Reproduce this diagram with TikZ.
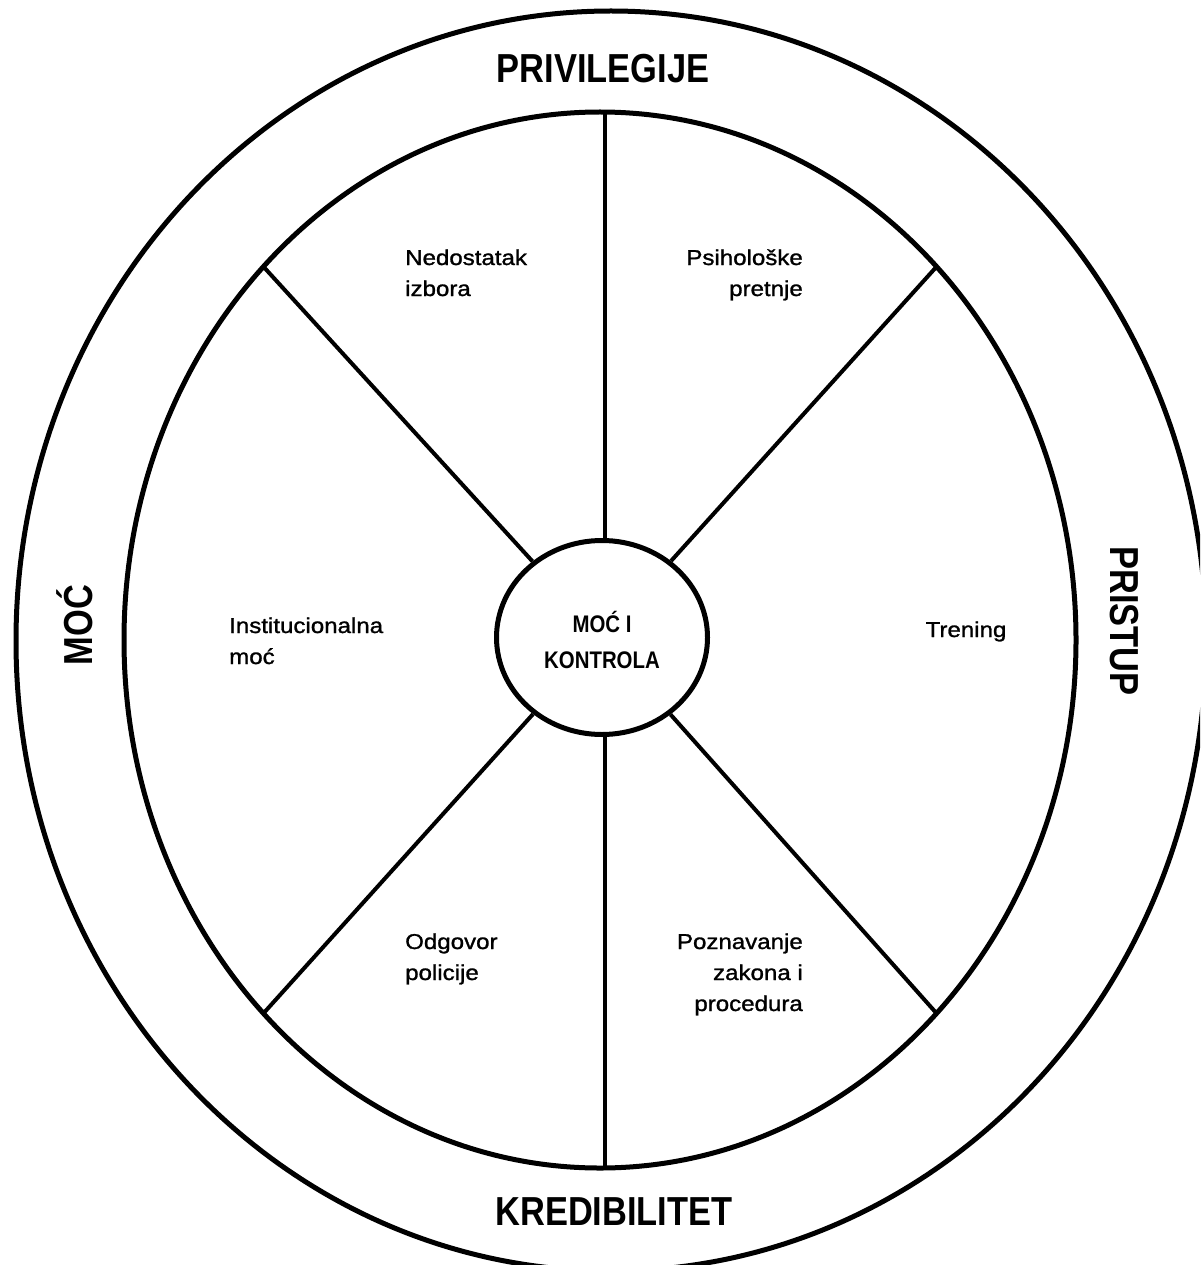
\documentclass[tikz,border=0pt]{standalone}
\usepackage{fontspec}
\setmainfont{Liberation Sans}[FakeStretch=1.12, FakeBold=1.2]
\newfontfamily\hdfont{Liberation Sans}[FakeStretch=0.85]
\usetikzlibrary{shapes.geometric}
\begin{document}
\begin{tikzpicture}[x=1pt,y=-1pt,
  ring/.style={line width=5pt},
  spoke/.style={line width=4pt},
  lbl/.style={font=\fontsize{21.5}{31}\selectfont, inner sep=0pt},
  hdr/.style={font=\hdfont\bfseries\fontsize{40.5}{44}\selectfont, inner sep=0pt},
  hubstyle/.style={ellipse, draw, line width=5pt, minimum width=211pt, minimum height=194pt, inner sep=0pt, fill=white},
  hubtext/.style={font=\hdfont\bfseries\fontsize{24}{36}\selectfont, inner sep=0pt, align=center}]
\useasboundingbox (0,0) rectangle (1200,1265);
\fill[white] (0,0) rectangle (1200,1265);
\begin{scope}
  \clip (0,0) rectangle (1200,1265);
  \draw[ring] (611,641) ellipse [x radius=595pt, y radius=630pt];
\end{scope}
\draw[ring] (600,640) ellipse [x radius=476pt, y radius=528pt];
% spoke end points on the inner ring
\coordinate (n) at (605,112);
\coordinate (s) at (605,1168);
\coordinate (nw) at (263.4,266.6);
\coordinate (ne) at (936.6,266.6);
\coordinate (sw) at (263.4,1013.4);
\coordinate (se) at (936.6,1013.4);
% hub
\node[hubstyle] (hub) at (602,637.5) {};
\draw[spoke] (n) -- (n |- hub.north);
\draw[spoke] (s) -- (s |- hub.south);
\draw[spoke] (hub) -- (nw);
\draw[spoke] (hub) -- (ne);
\draw[spoke] (hub) -- (sw);
\draw[spoke] (hub) -- (se);
\node[hubtext, anchor=base] (hubt) at (602,668) {MOĆ I\\KONTROLA};
% segment labels (base anchor = baseline of the last line)
\node[lbl, anchor=base west, align=left] (t1) at (405,296) {Nedostatak\\izbora};
\node[lbl, anchor=base east, align=right] (t2) at (803,296) {Psihološke\\pretnje};
\node[lbl, anchor=base west, align=left] (t3) at (229,664) {Institucionalna\\moć};
\node[lbl, anchor=base] (t4) at (966,637) {Trening};
\node[lbl, anchor=base west, align=left] (t5) at (405,980) {Odgovor\\policije};
\node[lbl, anchor=base east, align=right] (t6) at (803,1011) {Poznavanje\\zakona i\\procedura};
% ring labels
\node[hdr, anchor=base] (h1) at (603,83) {PRIVILEGIJE};
\node[hdr, anchor=base] (h2) at (614,1225) {KREDIBILITET};
\node[hdr, anchor=base, rotate=90] (h3) at (92,625) {MOĆ};
\node[hdr, anchor=base, rotate=-90] (h4) at (1110,621) {PRISTUP};
\end{tikzpicture}
\end{document}
